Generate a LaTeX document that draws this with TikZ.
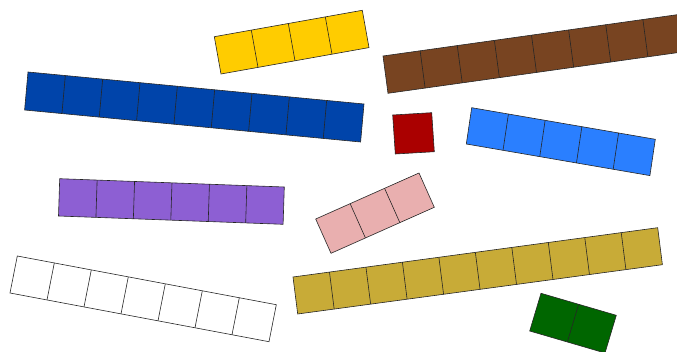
\documentclass[tikz,border=0pt]{standalone}
\usetikzlibrary{calc}
\definecolor{rodyellow}{HTML}{FFCC00}
\definecolor{roddblue}{HTML}{0044AA}
\definecolor{rodbrown}{HTML}{784421}
\definecolor{rodred}{HTML}{AA0000}
\definecolor{rodlblue}{HTML}{2A7FFF}
\definecolor{rodpurple}{HTML}{8D5FD3}
\definecolor{rodpink}{HTML}{E9AFAF}
\definecolor{rodolive}{HTML}{C8AB37}
\definecolor{rodgreen}{HTML}{006600}
\definecolor{rodwhite}{HTML}{FFFFFF}
\tikzset{rodbody/.style={line width=0.6pt, draw=black!85, line join=miter}}
% #1 name, #2 colour, #3 units, #4 top-left, #5 top-right, #6 bottom-left
\newcommand\myrod[6]{%
  \coordinate (#1A) at #4;
  \coordinate (#1B) at #5;
  \coordinate (#1D) at #6;
  \coordinate (#1C) at ($(#1B)+(#1D)-(#1A)$);
  \filldraw[rodbody, fill=#2] (#1A) -- (#1B) -- (#1C) -- (#1D) -- cycle;
  \ifnum#3>1
    \pgfmathtruncatemacro\rodlast{#3-1}%
    \foreach \k in {1,...,\rodlast}{%
      \draw[rodbody] ($(#1A)!\k/#3!(#1B)$) -- ($(#1D)!\k/#3!(#1C)$);
    }%
  \fi
}
\begin{document}
\begin{tikzpicture}[x=1pt,y=-1pt]
\useasboundingbox (0,0) rectangle (677,352);
\clip (0,0) rectangle (677,352);
\myrod{y}{rodyellow}{4}{(214.3,36.7)}{(362.3,10.3)}{(221,74)}
\myrod{b}{roddblue}{9}{(28,72)}{(364,104)}{(24.6,110)}
\myrod{br}{rodbrown}{8}{(383,56)}{(680,14.3)}{(388,93.3)}
\myrod{r}{rodred}{1}{(392.7,115)}{(431.7,112.7)}{(395.3,154)}
\myrod{lb}{rodlblue}{5}{(471.7,107.7)}{(655.3,139.3)}{(466.3,144)}
\myrod{p}{rodpurple}{6}{(59.7,178.7)}{(284.3,187)}{(58.5,216)}
\myrod{w}{rodwhite}{7}{(17.3,256)}{(276.3,304.7)}{(10,293)}
\myrod{pk}{rodpink}{3}{(315.7,219)}{(419,173)}{(331,253.3)}
\myrod{o}{rodolive}{10}{(293,277)}{(657.7,227.7)}{(297.7,314)}
\myrod{g}{rodgreen}{2}{(541,293.3)}{(616.3,315.3)}{(529.7,331)}
\end{tikzpicture}
\end{document}
